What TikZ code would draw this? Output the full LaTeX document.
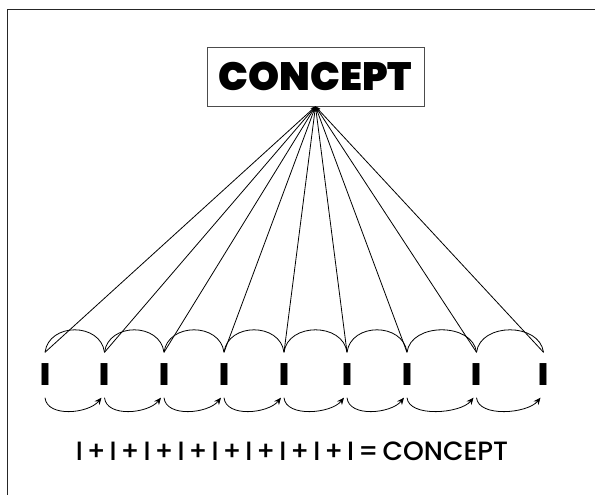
\documentclass[tikz,border=0pt]{standalone}
\usepackage{fontspec}
\usetikzlibrary{arrows.meta}
\newfontfamily\heavyfont{Poppins}[UprightFont=* Black]
\newfontfamily\plainfont{Poppins}[UprightFont=* Medium]
\newcommand\tightspaces{\spaceskip=4pt plus 1pt\relax}
\begin{document}
\begin{tikzpicture}[x=1pt,y=-1pt,
  frameline/.style={line width=1pt,draw=black!85},
  conceptbox/.style={draw=black!70,line width=0.9pt,rectangle,inner sep=0pt,
    minimum width=217pt,minimum height=59pt,font=\heavyfont\fontsize{39.5}{39.5}\selectfont},
  unit/.style={inner sep=0pt,minimum height=45pt,font=\heavyfont\fontsize{31}{31}\selectfont},
  fanline/.style={line width=0.8pt,-{Stealth[length=5pt,width=4pt]}},
  hump/.style={line width=0.8pt},
  link/.style={line width=0.8pt,-{Stealth[length=7pt,width=6pt]}},
  sumtext/.style={inner sep=0pt,font=\plainfont\fontsize{26.5}{26.5}\selectfont\tightspaces}]
\useasboundingbox (0,0) rectangle (595,495);
% open frame: left and top edges
\draw[frameline] (7,495) -- (7,10) -- (595,10);

% the concept box
\node[conceptbox] (concept) at (315.5,76.5) {CONCEPT};

% the nine units
\foreach \i/\x in {1/45,2/104.5,3/164,4/224,5/284,6/347,7/407,8/476.5,9/543.5}
  \node[unit] (b\i) at (\x,375) {I};

% every unit points up to the concept
\foreach \i in {1,...,9}
  \draw[fanline] (b\i.north) -- (concept.south);

% humps joining neighbouring units
\foreach \i [evaluate=\i as \j using int(\i+1)] in {1,...,8}
  \draw[hump] (b\i.north) .. controls ([xshift=4pt,yshift=30pt]b\i.north)
    and ([xshift=-4pt,yshift=30pt]b\j.north) .. (b\j.north);

% curved arrows adding one unit to the next
\foreach \i [evaluate=\i as \j using int(\i+1)] in {1,...,8}
  \draw[link] (b\i.south) .. controls ([xshift=2pt,yshift=-20pt]b\i.south)
    and ([xshift=-16pt,yshift=-16pt]b\j.south) .. ([xshift=-3pt]b\j.south);

% the sum written out
\node[sumtext] (sum) at (292,451) {I + I + I + I + I + I + I + I + I = CONCEPT};
\end{tikzpicture}
\end{document}
